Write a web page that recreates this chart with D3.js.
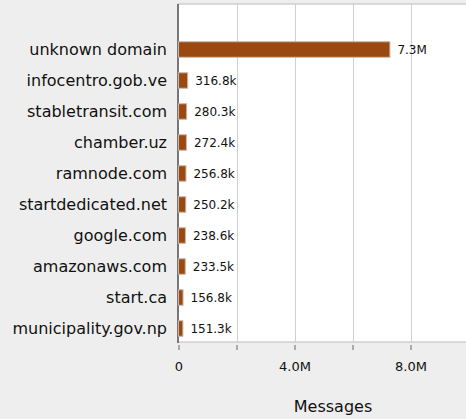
<!DOCTYPE html>
<html>
<head>
<meta charset="utf-8">
<script src="https://cdn.jsdelivr.net/npm/d3@7"></script>
<style>
  body { margin: 0; background: #eeeeee; }
  svg { display: block; font-family: "DejaVu Sans", sans-serif; }
</style>
</head>
<body>
<div id="chart"></div>
<script>
// chart data
var domains = ["unknown domain", "infocentro.gob.ve", "stabletransit.com", "chamber.uz",
               "ramnode.com", "startdedicated.net", "google.com", "amazonaws.com",
               "start.ca", "municipality.gov.np"];
var messages = [7290000, 316800, 280300, 272400, 256800, 250200, 238600, 233500, 156800, 151300];
var tickValues = [0, 2000000, 4000000, 6000000, 8000000];
var tickLabels = ["0", "", "4.0M", "", "8.0M"];

var width = 466, height = 419;
var plotLeft = 178, plotTop = 4, plotBottom = 342;

var rows = domains.map(function(d, i) { return { name: d, value: messages[i] }; });

var svg = d3.select("#chart").append("svg")
    .attr("width", width)
    .attr("height", height);

var x = d3.scaleLinear()
    .domain([0, 10000000])
    .range([plotLeft + 0.5, plotLeft + 290.5]);

var y = d3.scaleBand()
    .domain(domains)
    .range([34, 344])
    .paddingInner(0.5)
    .paddingOuter(0.25);

function fmt(v) {
    if (v >= 1e6) return (v / 1e6).toFixed(1) + "M";
    return (v / 1e3).toFixed(1) + "k";
}

// plot background + border
svg.append("rect")
    .attr("x", plotLeft)
    .attr("y", plotTop)
    .attr("width", width - plotLeft + 10)
    .attr("height", plotBottom - plotTop)
    .style("fill", "#fff")
    .style("stroke", "#bbbbbb");

// grid lines
svg.append("g").selectAll("line")
    .data(tickValues.slice(1))
  .enter().append("line")
    .attr("x1", function(d) { return Math.round(x(d)) + 0.5; })
    .attr("x2", function(d) { return Math.round(x(d)) + 0.5; })
    .attr("y1", plotTop)
    .attr("y2", plotBottom)
    .style("stroke", "#d0d0d0");

// bottom axis (ticks below plot)
var xAxis = d3.axisBottom(x)
    .tickValues(tickValues)
    .tickSize(5)
    .tickPadding(12)
    .tickFormat(function(d, i) { return tickLabels[i]; });

var gx = svg.append("g")
    .attr("transform", "translate(0," + (plotBottom + 3) + ")")
    .call(xAxis);
gx.select(".domain").remove();
gx.selectAll("line").style("stroke", "#666");
gx.selectAll("text")
    .style("font-size", "13px")
    .style("font-family", "DejaVu Sans, sans-serif")
    .style("fill", "#111");

// left axis line
svg.append("line")
    .attr("x1", plotLeft)
    .attr("x2", plotLeft)
    .attr("y1", plotTop)
    .attr("y2", plotBottom + 1)
    .style("stroke", "#555")
    .style("stroke-width", 1.5);

// bars
svg.append("g").selectAll("rect")
    .data(rows)
  .enter().append("rect")
    .attr("x", x(0))
    .attr("y", function(d) { return y(d.name); })
    .attr("width", function(d) { return x(d.value) - x(0); })
    .attr("height", y.bandwidth())
    .style("fill", "#9a4a10")
    .style("stroke", "#c9b6a8")
    .style("stroke-width", 1);

// value labels
svg.append("g").selectAll("text")
    .data(rows)
  .enter().append("text")
    .attr("x", function(d) { return x(d.value) + 7.5; })
    .attr("y", function(d) { return y(d.name) + y.bandwidth() / 2; })
    .attr("dy", "0.35em")
    .style("font-size", "12px")
    .style("fill", "#111")
    .text(function(d) { return fmt(d.value); });

// category labels
svg.append("g").selectAll("text")
    .data(rows)
  .enter().append("text")
    .attr("x", plotLeft - 11)
    .attr("y", function(d) { return y(d.name) + y.bandwidth() / 2; })
    .attr("dy", "0.35em")
    .attr("text-anchor", "end")
    .style("font-size", "16px")
    .style("fill", "#111")
    .text(function(d) { return d.name; });

// axis title
svg.append("text")
    .attr("x", 333)
    .attr("y", 406)
    .attr("dy", "0.35em")
    .attr("text-anchor", "middle")
    .style("font-size", "16px")
    .style("fill", "#111")
    .text("Messages");
</script>
</body>
</html>
